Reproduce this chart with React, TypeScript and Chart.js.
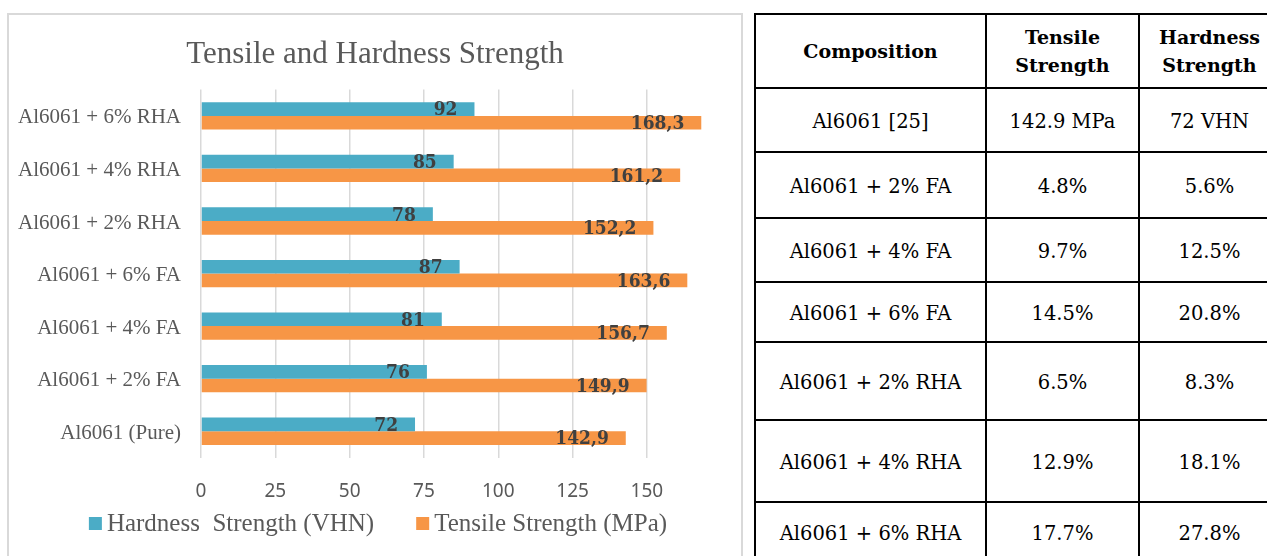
import React, { useEffect, useRef } from "react";
import { Chart, registerables } from "chart.js";

Chart.register(...registerables);

// ---------- chart data (top-to-bottom as drawn) ----------
const categories = [
  "Al6061 + 6% RHA",
  "Al6061 + 4% RHA",
  "Al6061 + 2% RHA",
  "Al6061 + 6% FA",
  "Al6061 + 4% FA",
  "Al6061 + 2% FA",
  "Al6061 (Pure)",
];
const hardnessVHN = [92, 85, 78, 87, 81, 76, 72];
const tensileMPa = [168.3, 161.2, 152.2, 163.6, 156.7, 149.9, 142.9];
const xTickValues = [0, 25, 50, 75, 100, 125, 150];
const xAxisMax = 182;
const seriesNames = ["Hardness  Strength (VHN)", "Tensile Strength (MPa)"];
const chartTitle = "Tensile and Hardness Strength";

// ---------- table data ----------
const tableHeaders = [["Composition"], ["Tensile", "Strength"], ["Hardness", "Strength"]];
const tableCompositions = [
  "Al6061 [25]",
  "Al6061 + 2% FA",
  "Al6061 + 4% FA",
  "Al6061 + 6% FA",
  "Al6061 + 2% RHA",
  "Al6061 + 4% RHA",
  "Al6061 + 6% RHA",
];
const tableTensile = ["142.9 MPa", "4.8%", "9.7%", "14.5%", "6.5%", "12.9%", "17.7%"];
const tableHardness = ["72 VHN", "5.6%", "12.5%", "20.8%", "8.3%", "18.1%", "27.8%"];

const TEAL = "#4BACC6";
const ORANGE = "#F79646";
const GREY_TEXT = "#595959";

const dataLabelPlugin = {
  id: "barEndLabels",
  afterDatasetsDraw(chart: any) {
    const ctx = chart.ctx;
    ctx.save();
    ctx.font = 'bold 19px "DejaVu Serif Condensed", "DejaVu Serif"';
    ctx.fillStyle = "#404040";
    ctx.textAlign = "right";
    ctx.textBaseline = "middle";
    chart.data.datasets.forEach((ds: any, i: number) => {
      const meta = chart.getDatasetMeta(i);
      meta.data.forEach((bar: any, j: number) => {
        const txt = String(ds.data[j]).replace(".", ",");
        ctx.fillText(txt, bar.x - 17, bar.y + 1.5);
      });
    });
    ctx.restore();
  },
};

const legendPlugin = {
  id: "bottomLegend",
  afterDraw(chart: any) {
    const ctx = chart.ctx;
    ctx.save();
    ctx.font = '25px "Liberation Serif"';
    const box = 13;
    const gapBoxText = 5;
    const gapItems = 42;
    const items = chart.data.datasets.map((ds: any) => ({
      text: ds.label,
      color: ds.backgroundColor,
      w: ctx.measureText(ds.label).width,
    }));
    const total =
      items.reduce((s: number, it: any) => s + box + gapBoxText + it.w, 0) +
      gapItems * (items.length - 1);
    let x = chart.width / 2 - total / 2 + 3;
    const cy = chart.chartArea.bottom + 66;
    ctx.textBaseline = "middle";
    ctx.textAlign = "left";
    items.forEach((it: any) => {
      ctx.fillStyle = it.color;
      ctx.fillRect(x, cy - box / 2, box, box);
      x += box + gapBoxText;
      ctx.fillStyle = GREY_TEXT;
      ctx.fillText(it.text, x, cy + 1);
      x += it.w + gapItems;
    });
    ctx.restore();
  },
};

function BarChart() {
  const ref = useRef<HTMLCanvasElement | null>(null);
  useEffect(() => {
    if (!ref.current) return;
    const chart = new Chart(ref.current, {
      type: "bar",
      data: {
        labels: categories,
        datasets: [
          {
            label: seriesNames[0],
            data: hardnessVHN,
            backgroundColor: TEAL,
            categoryPercentage: 0.52,
            barPercentage: 1,
          },
          {
            label: seriesNames[1],
            data: tensileMPa,
            backgroundColor: ORANGE,
            categoryPercentage: 0.52,
            barPercentage: 1,
          },
        ],
      },
      options: {
        indexAxis: "y",
        animation: false,
        responsive: false,
        devicePixelRatio: 1,
        layout: { padding: { top: 0, right: 0, bottom: 0, left: 0 } },
        plugins: {
          legend: { display: false },
          tooltip: { enabled: false },
          title: {
            display: true,
            text: chartTitle,
            color: GREY_TEXT,
            font: { family: "Liberation Serif", size: 31, weight: "normal", lineHeight: 1.2 },
            padding: { top: 22, bottom: 16.4 },
          },
        },
        scales: {
          x: {
            type: "linear",
            min: 0,
            max: xAxisMax,
            afterBuildTicks(scale: any) {
              scale.ticks = xTickValues.map((v) => ({ value: v }));
            },
            afterFit(scale: any) {
              scale.height = 116.5;
            },
            grid: { color: "#d9d9d9", lineWidth: 1.5, drawTicks: false },
            border: { display: false },
            ticks: {
              color: GREY_TEXT,
              font: { family: "Noto Sans", size: 19 },
              padding: 23,
            },
          },
          y: {
            afterFit(scale: any) {
              scale.width = 193;
            },
            grid: { display: false, drawTicks: false },
            border: { display: false },
            ticks: {
              color: GREY_TEXT,
              font: { family: "Liberation Serif", size: 21 },
              padding: 20,
              labelOffset: 2,
            },
          },
        },
      } as any,
      plugins: [dataLabelPlugin, legendPlugin],
    });
    return () => chart.destroy();
  }, []);
  return (
    <canvas
      ref={ref}
      width={734}
      height={560}
      style={{ position: "absolute", left: 8, top: 14, width: 734, height: 560 }}
    />
  );
}

const colWidths = [231, 153, 141];
const rowHeights = [74, 64, 66, 64, 60, 78, 82, 60];

function DataTable() {
  const cell = (content: React.ReactNode, key: string, bold = false) => (
    <div
      key={key}
      style={{
        boxSizing: "border-box",
        borderRight: "2px solid #000",
        borderBottom: "2px solid #000",
        display: "flex",
        flexDirection: "column",
        alignItems: "center",
        justifyContent: "center",
        textAlign: "center",
        paddingTop: bold ? 0 : 4,
        fontFamily: '"DejaVu Serif", serif',
        fontSize: bold ? 19 : 19.5,
        fontWeight: bold ? "bold" : "normal",
        lineHeight: bold ? "28px" : "24px",
        color: "#000",
      }}
    >
      {content}
    </div>
  );
  const cells: React.ReactNode[] = [];
  tableHeaders.forEach((lines, i) =>
    cells.push(
      cell(
        lines.map((l, k) => (
          <div key={k}>{l}</div>
        )),
        "h" + i,
        true
      )
    )
  );
  tableCompositions.forEach((c, r) => {
    cells.push(cell(c, "c" + r));
    cells.push(cell(tableTensile[r], "t" + r));
    cells.push(cell(tableHardness[r], "d" + r));
  });
  return (
    <div
      style={{
        position: "absolute",
        left: 754,
        top: 13,
        display: "grid",
        gridTemplateColumns: colWidths.map((w) => w + "px").join(" "),
        gridTemplateRows: rowHeights.map((h) => h + "px").join(" "),
        borderLeft: "2px solid #000",
        borderTop: "2px solid #000",
        background: "#fff",
      }}
    >
      {cells}
    </div>
  );
}

export default function App() {
  return (
    <div
      style={{
        position: "fixed",
        left: 0,
        top: 0,
        width: 1267,
        height: 556,
        overflow: "hidden",
        background: "#fff",
      }}
    >
      <div
        style={{
          position: "absolute",
          left: 7,
          top: 13,
          width: 736,
          height: 580,
          boxSizing: "border-box",
          border: "2px solid #d9d9d9",
        }}
      />
      <BarChart />
      <DataTable />
    </div>
  );
}
